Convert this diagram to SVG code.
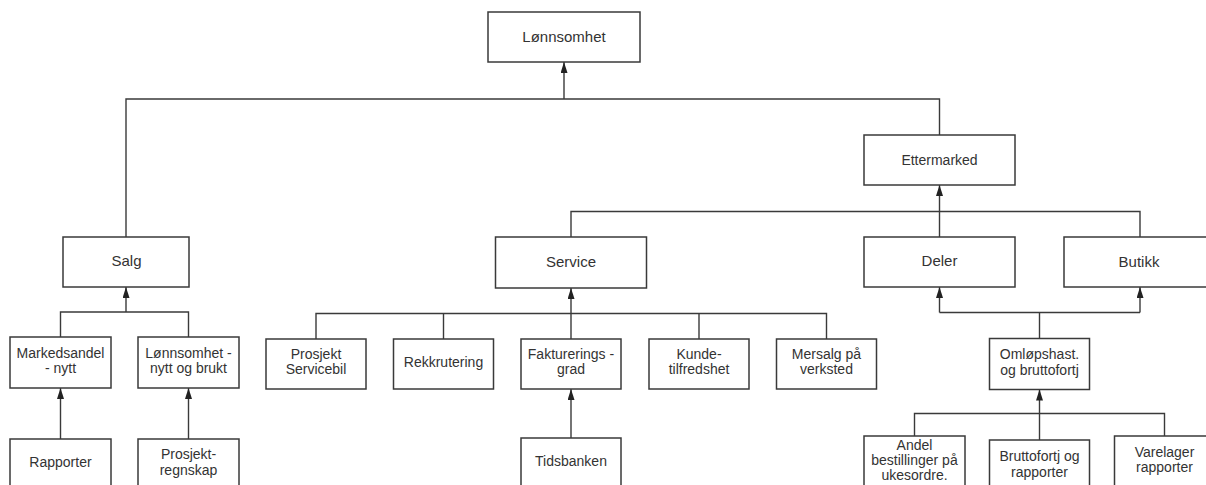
<svg xmlns="http://www.w3.org/2000/svg" width="1206" height="485" viewBox="0 0 1206 485">
  <style>
    .box { fill: #ffffff; stroke: #3a3a3a; stroke-width: 1.5; }
    .link { fill: none; stroke: #3a3a3a; stroke-width: 1.4; }
    .lbl { font-family: "Liberation Sans", Arial, sans-serif; font-size: 14px; fill: #333333; text-anchor: middle; }
    .big { font-size: 15px; }
  </style>
  <defs>
    <marker id="arrow" markerUnits="userSpaceOnUse" markerWidth="12" markerHeight="8" refX="11" refY="3.5" orient="auto">
      <path d="M0,0 L11,3.5 L0,7 z" fill="#222222"/>
    </marker>
  </defs>

  <rect width="1206" height="485" fill="#ffffff"/>

  <!-- connectors -->
  <g id="connectors">
    <!-- top level -->
    <path class="link" d="M126 237 V99 H939.5 V135"/>
    <path class="link" d="M564 99 V62" marker-end="url(#arrow)"/>
    <!-- Ettermarked branch -->
    <path class="link" d="M571 237 V211.5 H1140 V237"/>
    <path class="link" d="M939.5 237 V185" marker-end="url(#arrow)"/>
    <!-- Salg children -->
    <path class="link" d="M60.5 337 V312 H188.5 V337"/>
    <path class="link" d="M126 312 V287" marker-end="url(#arrow)"/>
    <path class="link" d="M60.5 439 V388" marker-end="url(#arrow)"/>
    <path class="link" d="M188.5 439 V388" marker-end="url(#arrow)"/>
    <!-- Service children -->
    <path class="link" d="M316 339 V313.5 H826.5 V339"/>
    <path class="link" d="M443.5 313.5 V339"/>
    <path class="link" d="M699 313.5 V339"/>
    <path class="link" d="M571 339 V288" marker-end="url(#arrow)"/>
    <path class="link" d="M571 438 V389" marker-end="url(#arrow)"/>
    <!-- Deler / Butikk children -->
    <path class="link" d="M939.5 312.5 V287" marker-end="url(#arrow)"/>
    <path class="link" d="M1140 312.5 V287" marker-end="url(#arrow)"/>
    <path class="link" d="M939.5 312.5 H1140"/>
    <path class="link" d="M1039.5 312.5 V338.5"/>
    <!-- Omløpshast children -->
    <path class="link" d="M914.5 436 V413.5 H1164.5 V436"/>
    <path class="link" d="M1039.5 440 V389.5" marker-end="url(#arrow)"/>
  </g>

  <g id="lonnsomhet">
    <rect class="box" x="488" y="12" width="152" height="50"/>
    <text class="lbl big" x="564" y="41.5">Lønnsomhet</text>
  </g>

  <g id="ettermarked">
    <rect class="box" x="864" y="135" width="151" height="50"/>
    <text class="lbl" x="939.5" y="165">Ettermarked</text>
  </g>

  <g id="salg">
    <rect class="box" x="63" y="237" width="126" height="50"/>
    <text class="lbl big" x="126.5" y="266">Salg</text>
  </g>

  <g id="service">
    <rect class="box" x="495.5" y="237" width="151" height="51"/>
    <text class="lbl big" x="571" y="267">Service</text>
  </g>

  <g id="deler">
    <rect class="box" x="864" y="237" width="151" height="50"/>
    <text class="lbl big" x="939.5" y="266">Deler</text>
  </g>

  <g id="butikk">
    <rect class="box" x="1064" y="237" width="152" height="50"/>
    <text class="lbl big" x="1139" y="267">Butikk</text>
  </g>

  <g id="markedsandel">
    <rect class="box" x="10" y="337" width="101" height="51"/>
    <text class="lbl" x="60.5" y="358">Markedsandel</text>
    <text class="lbl" x="60.5" y="373">- nytt</text>
  </g>

  <g id="lonnsomhet-nytt">
    <rect class="box" x="138" y="337" width="101" height="51"/>
    <text class="lbl" x="188.5" y="358">Lønnsomhet -</text>
    <text class="lbl" x="188.5" y="373">nytt og brukt</text>
  </g>

  <g id="rapporter">
    <rect class="box" x="10" y="439" width="101" height="60"/>
    <text class="lbl" x="60.5" y="467">Rapporter</text>
  </g>

  <g id="prosjektregnskap">
    <rect class="box" x="138" y="439" width="101" height="60"/>
    <text class="lbl" x="188.5" y="459">Prosjekt-</text>
    <text class="lbl" x="188.5" y="474.5">regnskap</text>
  </g>

  <g id="prosjekt-servicebil">
    <rect class="box" x="266" y="339" width="100" height="50"/>
    <text class="lbl" x="316" y="359">Prosjekt</text>
    <text class="lbl" x="316" y="374">Servicebil</text>
  </g>

  <g id="rekkrutering">
    <rect class="box" x="393.5" y="339" width="100" height="50"/>
    <text class="lbl" x="443.5" y="367">Rekkrutering</text>
  </g>

  <g id="faktureringsgrad">
    <rect class="box" x="521" y="339" width="100" height="50"/>
    <text class="lbl" x="571" y="359">Fakturerings -</text>
    <text class="lbl" x="571" y="374">grad</text>
  </g>

  <g id="kundetilfredshet">
    <rect class="box" x="649" y="339" width="100" height="50"/>
    <text class="lbl" x="699" y="359">Kunde-</text>
    <text class="lbl" x="699" y="374">tilfredshet</text>
  </g>

  <g id="mersalg">
    <rect class="box" x="776.5" y="339" width="100" height="50"/>
    <text class="lbl" x="826.5" y="359">Mersalg på</text>
    <text class="lbl" x="826.5" y="374">verksted</text>
  </g>

  <g id="tidsbanken">
    <rect class="box" x="521" y="438" width="100" height="60"/>
    <text class="lbl" x="571" y="466">Tidsbanken</text>
  </g>

  <g id="omlopshast">
    <rect class="box" x="989.5" y="338.5" width="100" height="51"/>
    <text class="lbl" x="1039.5" y="359">Omløpshast.</text>
    <text class="lbl" x="1039.5" y="375">og bruttofortj</text>
  </g>

  <g id="andel-bestillinger">
    <rect class="box" x="864" y="436" width="101" height="62"/>
    <text class="lbl" x="914.5" y="450">Andel</text>
    <text class="lbl" x="914.5" y="465">bestillinger på</text>
    <text class="lbl" x="914.5" y="479.5">ukesordre.</text>
  </g>

  <g id="bruttofortj-rapporter">
    <rect class="box" x="989.5" y="440" width="100" height="58"/>
    <text class="lbl" x="1039.5" y="461">Bruttofortj og</text>
    <text class="lbl" x="1039.5" y="476.5">rapporter</text>
  </g>

  <g id="varelager-rapporter">
    <rect class="box" x="1114.5" y="436" width="100" height="62"/>
    <text class="lbl" x="1164.5" y="457">Varelager</text>
    <text class="lbl" x="1164.5" y="472">rapporter</text>
  </g>
</svg>
